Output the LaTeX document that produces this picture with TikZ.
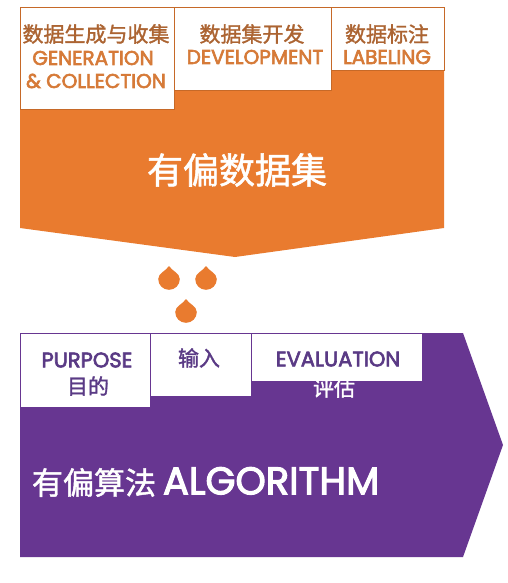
\documentclass[tikz,border=0pt]{standalone}
\usepackage{fontspec}
\newfontfamily\cjk{Noto Sans CJK SC}[FakeBold=1.5]
\newfontfamily\en{Poppins}[FakeBold=3]
\definecolor{orfill}{RGB}{233,123,47}
\definecolor{ortxt}{RGB}{172,100,50}
\definecolor{orlat}{RGB}{214,122,56}
\definecolor{pufill}{RGB}{103,54,145}
\definecolor{putxt}{RGB}{90,58,133}
\begin{document}
\begin{tikzpicture}[x=1pt,y=-1pt,
  obox/.style={draw=orfill!85!black, line width=1pt, fill=white},
  pbox/.style={draw=pufill, line width=1pt, fill=white},
  txt/.style={inner sep=0pt, outer sep=0pt, anchor=center},
  ocn/.style={txt, text=ortxt, font=\cjk\fontsize{21}{21}\selectfont},
  oen/.style={txt, text=orlat, font=\en\fontsize{20}{20}\selectfont},
  pcn/.style={txt, text=putxt, font=\cjk\fontsize{21}{21}\selectfont},
  pen/.style={txt, text=putxt, font=\en\fontsize{21}{21}\selectfont},
  dropfill/.style={fill=orfill}]
\useasboundingbox (0,0) rectangle (508,583);
% orange dataset shape
\fill[orfill] (20,8) -- (444,8) -- (444,228) -- (235,257) -- (20,228) -- cycle;
\draw[obox] (20,8) rectangle (174,110) coordinate (ob1);
\draw[obox] (174,8) rectangle (331,91) coordinate (ob2);
\draw[obox] (331,8) rectangle (444,71) coordinate (ob3);
\node[ocn] (t1cn) at (96,34) {数据生成与收集};
\node[oen] (t1e1) at (93,58) {GENERATION};
\node[oen] (t1e2) at (96,81) {\& COLLECTION};
\node[ocn] (t2cn) at (252,34) {数据集开发};
\node[oen] (t2e) at (255,57) {DEVELOPMENT};
\node[ocn] (t3cn) at (387,34) {数据标注};
\node[oen] (t3e) at (387,57) {LABELING};
\node[txt, text=white, font=\cjk\fontsize{36}{36}\selectfont] (bigds) at (237,170) {有偏数据集};
% drops
\foreach \cx/\cy in {169/279, 206/279, 186/312}{
  \fill[dropfill, shift={(\cx,\cy)}] (0,-13) .. controls (3,-8) and (10.8,-6) .. (10.8,0)
    .. controls (10.8,6) and (6,10.8) .. (0,10.8)
    .. controls (-6,10.8) and (-10.8,6) .. (-10.8,0)
    .. controls (-10.8,-6) and (-3,-8) .. (0,-13) -- cycle;
}
% purple algorithm arrow
\fill[pufill] (20,333) -- (463,333) -- (503,445) -- (463,557) -- (20,557) -- cycle;
\draw[pbox] (20,333) rectangle (150,407);
\draw[pbox] (150,333) rectangle (251,396);
\draw[pbox] (251,333) rectangle (422,381);
\node[pen] (p1e) at (87,360) {PURPOSE};
\node[pcn] (p1c) at (88,386) {目的};
\node[pcn] (p2c) at (199,358) {输入};
\node[pen] (p3e) at (338,359) {EVALUATION};
\node[txt, text=white, font=\cjk\fontsize{21}{21}\selectfont] (p3c) at (334,388) {评估};
\node[txt, anchor=west, text=white] (algo) at (32,482) {\cjk\fontsize{31}{31}\selectfont 有偏算法\hspace{7pt}\en\fontsize{38.5}{38.5}\selectfont ALGORITHM};
\end{tikzpicture}
\end{document}
